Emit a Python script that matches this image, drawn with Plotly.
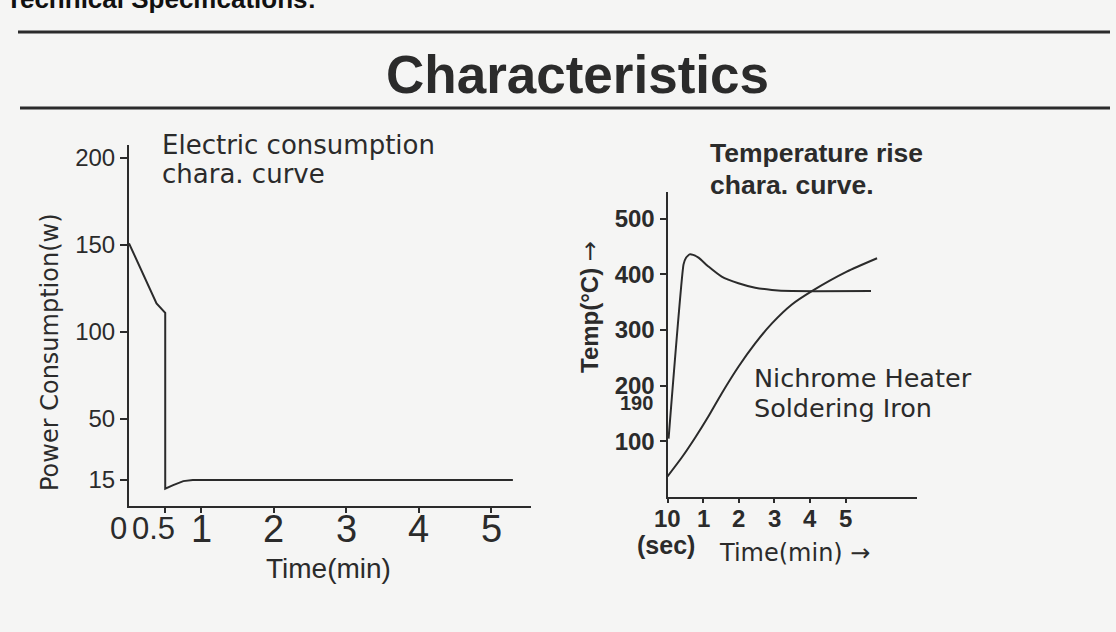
import plotly.graph_objects as go

W, H = 1116, 632

# ---- Left chart: electric consumption ----
power_time = [0, 0.13, 0.27, 0.38, 0.5, 0.5, 0.61, 0.75, 0.88, 5.3]
power_watt = [151, 139.5, 127, 116.5, 111, 10, 12, 14.3, 15, 15]
power_ytick_vals = [15, 50, 100, 150, 200]
power_xtick_vals = [1, 2, 3, 4, 5]
power_xtick_text = ["1", "2", "3", "4", "5"]
power_small_vals = [0, 0.5]
power_small_text = ["0", "0.5"]

# ---- Right chart: temperature rise ----
fast_time = [0.03, 0.45, 0.52, 0.62, 0.72, 0.87, 1.15, 1.52, 1.99, 2.46, 2.93, 3.49, 5.71]
fast_temp = [105, 418, 430, 436, 435, 430, 414, 396, 384, 376, 372, 370, 370]
nichrome_time = [0, 0.39, 0.77, 1.15, 1.52, 1.99, 2.46, 2.93, 3.49, 4.05, 5.03, 5.88]
nichrome_temp = [37, 70, 106, 145, 186, 234, 276, 312, 346, 370, 405, 429]
temp_ytick_vals = [100, 200, 300, 400, 500]
temp_xtick_vals = [0, 1, 2, 3, 4, 5]
temp_xtick_text = ["10", "1", "2", "3", "4", "5"]

INK = "#2b2b2b"
FONT = "Liberation Sans"
WIDE = "DejaVu Sans"

def px(x):
    return x / W

def py(y):
    return 1 - y / H

fig = go.Figure()
fig.add_trace(go.Scatter(x=power_time, y=power_watt, mode="lines",
                         line=dict(color=INK, width=2), xaxis="x", yaxis="y",
                         showlegend=False, hoverinfo="skip"))
fig.add_trace(go.Scatter(x=fast_time, y=fast_temp, mode="lines",
                         line=dict(color=INK, width=2, shape="spline", smoothing=0.4),
                         xaxis="x2", yaxis="y2", showlegend=False, hoverinfo="skip"))
fig.add_trace(go.Scatter(x=nichrome_time, y=nichrome_temp, mode="lines",
                         line=dict(color=INK, width=2, shape="spline", smoothing=0.6),
                         xaxis="x2", yaxis="y2", showlegend=False, hoverinfo="skip"))

axis_common = dict(showline=True, linecolor=INK, linewidth=2, showgrid=False,
                   zeroline=False, ticks="outside", tickcolor=INK, tickwidth=1.5,
                   fixedrange=True, automargin=False)

annotations = []
def ann(text, x, y, size, bold=False, xanchor="center", yanchor="middle", angle=0,
        color=INK, xref="paper", family=FONT):
    annotations.append(dict(text=text, x=(x if xref != "paper" else px(x)), y=py(y),
                            xref=xref, yref="paper",
                            showarrow=False, xanchor=xanchor, yanchor=yanchor,
                            textangle=angle,
                            font=dict(family=family, size=size, color=color,
                                      weight="bold" if bold else "normal")))

# header texts
ann("Technical Specifications:", 4, 16, 26, bold=True, xanchor="left", yanchor="bottom", color="#111")
ann("Characteristics", 578, 75, 53, bold=True)

# left chart texts
ann("Electric consumption", 160, 145, 26, xanchor="left", family=WIDE)
ann("chara. curve", 160, 174, 26, xanchor="left", family=WIDE)
ann("Power Consumption(w)", 50, 352, 24, angle=-90, family=WIDE)
ann("Time(min)", 328, 568, 28)
for v, t in zip(power_xtick_vals, power_xtick_text):
    ann(t, v, 529, 38, xref="x")
ann(power_small_text[0], 118, 528, 31)
ann(power_small_text[1], 153, 528, 31)

# right chart texts
ann("Temperature rise", 708, 153, 26.5, bold=True, xanchor="left")
ann("chara. curve.", 708, 185, 26.5, bold=True, xanchor="left")
ann("Temp(°C) <span style='font-family:DejaVu Sans;font-weight:normal'>→</span>",
    590, 307, 24, bold=True, angle=-90)
ann("190", 636, 403, 20, bold=True)
ann("Nichrome Heater", 752, 378, 25.5, xanchor="left", family=WIDE)
ann("Soldering Iron", 752, 408, 25.5, xanchor="left", family=WIDE)
for v, t in zip(temp_xtick_vals, temp_xtick_text):
    ann(t, v, 518, 24, bold=True, xref="x2")
ann("(sec)", 666, 545, 25, bold=True)
ann("Time(min) →", 717, 553, 24, xanchor="left", family=WIDE)

shapes = [
    dict(type="line", xref="paper", yref="paper", x0=px(18), x1=px(1110),
         y0=py(32), y1=py(32), line=dict(color=INK, width=3)),
    dict(type="line", xref="paper", yref="paper", x0=px(20), x1=px(1110),
         y0=py(108), y1=py(108), line=dict(color=INK, width=3)),
]

fig.update_layout(
    width=W, height=H, margin=dict(l=0, r=0, t=0, b=0, autoexpand=False),
    paper_bgcolor="#f5f5f4", plot_bgcolor="rgba(0,0,0,0)",
    font=dict(family=FONT, color=INK),
    xaxis=dict(axis_common, domain=[px(129), px(531)], range=[0, 5.55],
               tickvals=[0.5] + power_xtick_vals, showticklabels=False, ticklen=5,
               anchor="y"),
    yaxis=dict(axis_common, domain=[py(506), py(145)], range=[0, 207.5],
               tickvals=power_ytick_vals, ticklen=7,
               tickfont=dict(family=FONT, size=24, color=INK), anchor="x"),
    xaxis2=dict(axis_common, domain=[px(667.5), px(917)], range=[0, 7.0],
                tickvals=temp_xtick_vals, showticklabels=False, ticklen=4,
                anchor="y2"),
    yaxis2=dict(axis_common, domain=[py(497), py(192)], range=[0, 548],
                tickvals=temp_ytick_vals, ticklen=6,
                tickfont=dict(family=FONT, size=24, color=INK, weight="bold"), anchor="x2"),
    annotations=annotations, shapes=shapes,
)

fig.write_html("out.html", config={"displayModeBar": False},
               post_script="document.body.style.margin='0';document.body.style.padding='0';"
                           "document.body.style.overflow='hidden';")
